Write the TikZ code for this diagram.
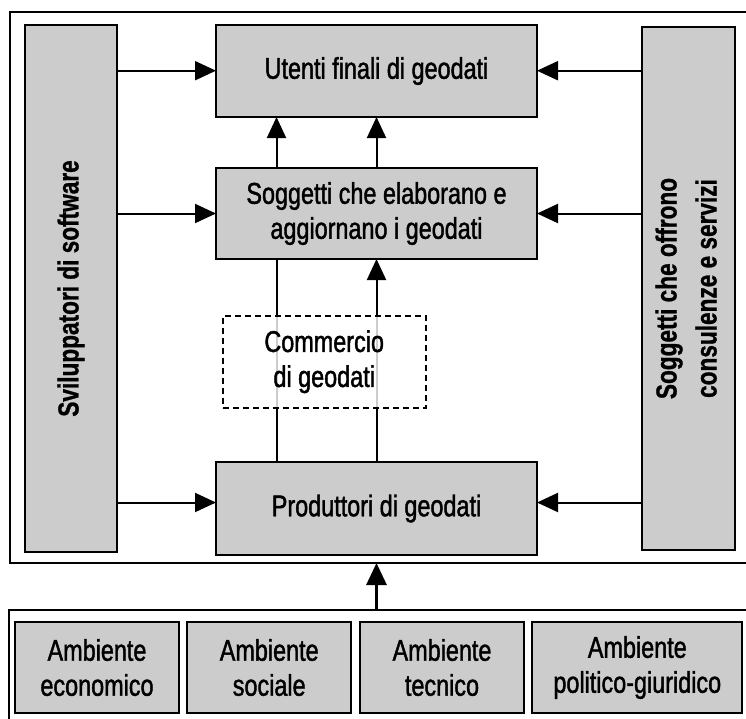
\documentclass[tikz,border=0pt]{standalone}
\usepackage{fontspec}
\setmainfont{Liberation Sans}[FakeStretch=0.78,
  UprightFeatures={FakeBold=1.4}, BoldFeatures={FakeBold=0.9}]
\usetikzlibrary{arrows.meta}
\definecolor{boxgray}{RGB}{204,204,204}
\definecolor{thrugray}{RGB}{205,205,205}
\pgfdeclarelayer{back}
\pgfsetlayers{back,main}
\begin{document}
\begin{tikzpicture}[x=1pt,y=-1pt,
  box/.style={draw, line width=2pt, fill=boxgray, inner sep=0pt, outer sep=0pt,
    align=center, font=\fontsize{30}{35}\selectfont},
  sidebox/.style={draw, line width=2pt, fill=boxgray, inner sep=0pt, outer sep=0pt,
    font=\bfseries\fontsize{29}{40}\selectfont},
  dashbox/.style={draw, line width=2.2pt, dash pattern=on 6pt off 4pt, inner sep=0pt,
    outer sep=0pt, align=center, font=\fontsize{30}{35}\selectfont},
  frame/.style={draw, line width=2pt, inner sep=0pt, outer sep=0pt},
  arr/.style={line width=2pt, -{Triangle[length=21pt,width=19pt]}},
  plain/.style={line width=2pt},
  thru/.style={line width=2pt, thrugray},
  bigarr/.style={line width=3pt, -{Triangle[length=22pt,width=20pt]}}
]
\useasboundingbox (0,0) rectangle (746,718);

% frames
\node[frame, minimum width=750.5pt, minimum height=551pt] (outer) at (384.75,287.5) {};
\node[frame, minimum width=751.5pt, minimum height=120pt] (env) at (384.25,670) {};

% side columns
\node[sidebox, minimum width=92pt, minimum height=527pt] (sw) at (71,288.5)
  {\rotatebox{90}{Sviluppatori di software}};
\node[sidebox, minimum width=93pt, minimum height=523pt] (cs) at (688.5,288.5)
  {\rotatebox{90}{\begin{tabular}{@{}c@{}}Soggetti che offrono\\consulenze e servizi\end{tabular}}};

% central column
\node[box, minimum width=321pt, minimum height=92pt] (ut) at (376.5,71) {Utenti finali di geodati};
\node[box, minimum width=321pt, minimum height=91pt] (so) at (376.5,213.5)
  {Soggetti che elaborano e\\aggiornano i geodati};
\node[box, minimum width=321pt, minimum height=93pt] (pr) at (376.5,508.5) {Produttori di geodati};
\node[dashbox, minimum width=203pt, minimum height=92pt] (cm) at (324.2,361.7)
  {Commercio\\di geodati};

% environment boxes
\node[box, minimum width=164pt, minimum height=91pt] (b1) at (97,667.5) {Ambiente\\economico};
\node[box, minimum width=163.7pt, minimum height=91pt] (b2) at (269.2,667.5) {Ambiente\\sociale};
\node[box, minimum width=164pt, minimum height=91pt] (b3) at (442,667.5) {Ambiente\\tecnico};
\node[box, minimum width=210pt, minimum height=91pt] (b4) at (637.3,667.5) {Ambiente\\politico-giuridico};

% horizontal connectors
\coordinate (utin) at ([yshift=0.3pt]ut.west);
\coordinate (utinr) at ([yshift=0.3pt]ut.east);
\coordinate (prin) at ([yshift=6pt]pr.west);
\coordinate (prinr) at ([yshift=6pt]pr.east);
\draw[arr] (sw.east |- utin) -- (utin);
\draw[arr] (sw.east |- so.west) -- (so.west);
\draw[arr] (sw.east |- prin) -- (prin);
\draw[arr] (cs.west |- utinr) -- (utinr);
\draw[arr] (cs.west |- so.east) -- (so.east);
\draw[arr] (cs.west |- prinr) -- (prinr);

% vertical connectors
\coordinate (lx) at ([xshift=-100pt]pr.north);
\coordinate (rx) at (pr.north);
\draw[arr] (lx |- so.north) -- (lx |- ut.south);
\draw[arr] (rx |- so.north) -- (rx |- ut.south);
\begin{pgfonlayer}{back}
  \draw[thru] (lx |- cm.south) -- (lx |- cm.north);
  \draw[thru] (rx |- cm.south) -- (rx |- cm.north);
\end{pgfonlayer}
\draw[plain] (lx) -- (lx |- cm.south);
\draw[plain] (lx |- cm.north) -- (lx |- so.south);
\draw[plain] (rx) -- (rx |- cm.south);
\draw[arr] (rx |- cm.north) -- (rx |- so.south);

% environment feeding the system
\draw[bigarr] (env.north -| pr) -- (outer.south -| pr);
\end{tikzpicture}
\end{document}
